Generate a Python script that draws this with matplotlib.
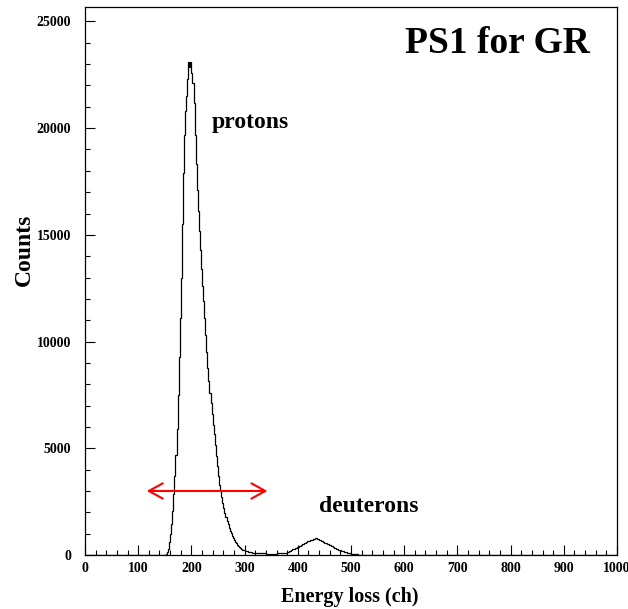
import numpy as np
import matplotlib
matplotlib.use("Agg")
import matplotlib.pyplot as plt
from matplotlib.ticker import MultipleLocator

# ---- data ----
X_MIN, X_MAX = 0, 1000
Y_MAX = 25700
BIN_WIDTH = 2
CHANNEL_START = 146
counts = [
    3, 8, 18, 45, 120, 300, 620, 1000, 1450, 2050,            # 146-164
    2850, 3700, 4700, 5900, 7500, 9300, 11100, 13000, 15500, 17900,  # 166-184
    19700, 20800, 21500, 22300, 23100, 22850, 23100, 22600, 22100, 21200,  # 186-204
    19700, 18300, 17100, 16100, 15200, 14300, 13400, 12600, 11900, 11100,  # 206-224
    10300, 9500, 8750, 8150, 7600, 7100, 6600, 6100, 5650, 5150,  # 226-244
    4650, 4150, 3700, 3300, 3000, 2700, 2450, 2200, 1980, 1780,  # 246-264
    1600, 1430, 1280, 1140, 1010, 900, 790, 700, 620, 550,      # 266-284
    480, 420, 370, 330, 290, 255, 230, 205, 185, 170,           # 286-304
    155, 140, 130, 122, 115, 108, 102, 98, 94, 90,              # 306-324
    86, 83, 80, 78, 76, 74, 72, 70, 68, 67,                     # 326-344
    66, 66, 65, 66, 67, 68, 70, 72, 74, 77,                     # 346-364
    80, 84, 88, 93, 99, 106, 114, 125, 142, 165,                # 366-384
    195, 230, 262, 290, 315, 340, 365, 390, 415, 440,           # 386-404
    465, 492, 520, 550, 580, 610, 636, 660, 682, 700,           # 406-424
    720, 740, 760, 790, 775, 765, 742, 720, 695, 670,           # 426-444
    640, 610, 580, 550, 525, 500, 480, 460, 430, 400,           # 446-464
    370, 340, 315, 290, 270, 250, 235, 220, 200, 180,           # 466-484
    160, 140, 125, 110, 97, 85, 75, 65, 56, 48,                 # 486-504
    41, 35, 30, 25, 21, 18, 15, 12, 10, 8,                      # 506-524
    6, 5, 4, 3, 2, 2, 1,                                        # 526-538
]
x_ticks = [0, 100, 200, 300, 400, 500, 600, 700, 800, 900, 1000]
y_ticks = [0, 5000, 10000, 15000, 20000, 25000]
arrow_range = (116, 343)
arrow_level = 3000

# ---- build full histogram ----
edges_all = np.arange(X_MIN, X_MAX + BIN_WIDTH, BIN_WIDTH)
values_all = np.zeros(len(edges_all) - 1)
i0 = (CHANNEL_START - X_MIN) // BIN_WIDTH
values_all[i0:i0 + len(counts)] = counts

plt.rcParams['font.family'] = ['Liberation Serif', 'DejaVu Serif']
plt.rcParams['font.weight'] = 'bold'

fig = plt.figure(figsize=(6.28, 6.09), dpi=100)
ax = fig.add_axes([85/628, 1 - 555/609, (617-85)/628, (555-6.5)/609])

ax.stairs(values_all, edges_all, color='black', lw=0.9, baseline=None)

ax.set_xlim(X_MIN, X_MAX)
ax.set_ylim(0, Y_MAX)
ax.set_xticks(x_ticks)
ax.set_yticks(y_ticks)
ax.set_xticklabels([str(v) for v in x_ticks], fontweight='bold', fontsize=10)
ax.set_yticklabels([str(v) for v in y_ticks], fontweight='bold', fontsize=10)
ax.xaxis.set_minor_locator(MultipleLocator(20))
ax.yaxis.set_minor_locator(MultipleLocator(1000))
ax.tick_params(which='both', direction='in', top=False, right=False, width=0.8)
ax.tick_params(which='major', length=7)
ax.tick_params(which='minor', length=3.5)
ax.tick_params(axis='x', which='major', pad=5)
ax.tick_params(axis='y', which='major', pad=10)
for s in ax.spines.values():
    s.set_linewidth(0.9)

# arrow
ax.annotate('', xy=(arrow_range[0], arrow_level), xytext=(arrow_range[1], arrow_level),
            arrowprops=dict(arrowstyle='<->, head_length=1.0, head_width=0.55',
                            color='red', lw=1.5, mutation_scale=10,
                            shrinkA=0, shrinkB=0))

ax.text(239, 20000, 'protons', fontsize=17, fontweight='bold', ha='left', va='baseline')
ax.text(440, 2000, 'deuterons', fontsize=17, fontweight='bold', ha='left', va='baseline')
ax.text(601, 23515, 'PS1 for GR', fontsize=27, fontweight='bold', ha='left', va='baseline')

fig.text(24/628, 1 - 250/609, 'Counts', rotation=90, fontsize=17, fontweight='bold',
         ha='center', va='center')
fig.text(350/628, 1 - 597/609, 'Energy loss (ch)', fontsize=14.5, fontweight='bold',
         ha='center', va='center')

fig.savefig('out.png', dpi=100)
